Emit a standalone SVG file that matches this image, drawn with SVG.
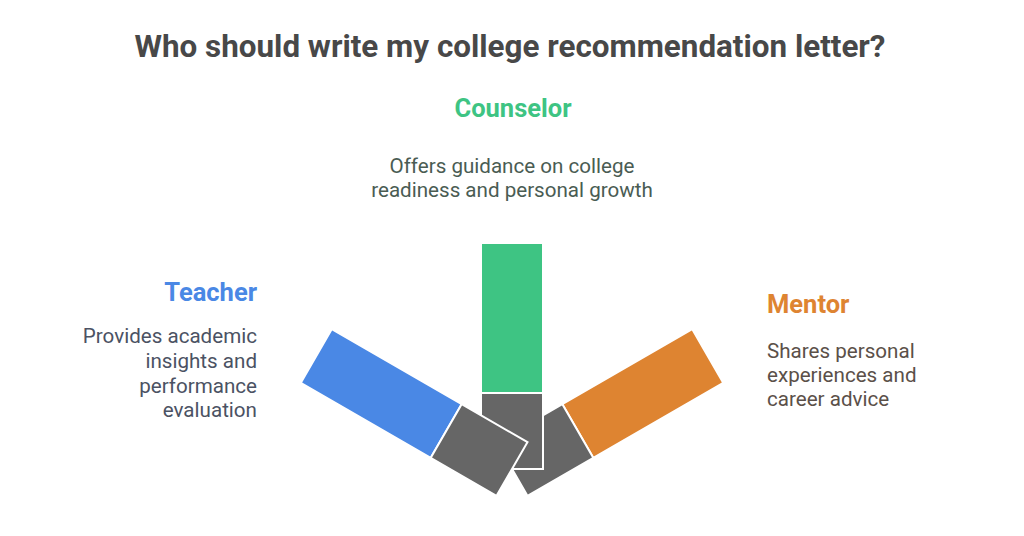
<svg xmlns="http://www.w3.org/2000/svg" width="1024" height="536" viewBox="0 0 1024 536">
<style>
.t{font-family:Roboto,"Liberation Sans",sans-serif}
.title{font-size:31.4px;font-weight:700;fill:#484848}
.head{font-size:25.5px;font-weight:700}
.desc{font-size:20.6px}
.bar{stroke:#ffffff;stroke-width:2}
</style>
<rect width="1024" height="536" fill="#ffffff"/>
<text class="t title" x="510" y="57" text-anchor="middle">Who should write my college recommendation letter?</text>
<g id="connectors"/>
<g id="mentor">
<g class="bar" transform="rotate(60 512 469)">
<rect x="481" y="243" width="62" height="150" fill="#DE8431"/>
<rect x="481" y="393" width="62" height="76" fill="#666666"/>
</g>
<text class="t head" x="767" y="313" fill="#DE8431">Mentor</text>
<text class="t desc" fill="#5b5049"><tspan x="767" y="358">Shares personal</tspan><tspan x="767" y="382">experiences and</tspan><tspan x="767" y="406">career advice</tspan></text>
</g>
<g id="counselor">
<g class="bar">
<rect x="481" y="243" width="62" height="150" fill="#3EC483"/>
<rect x="481" y="393" width="62" height="76" fill="#666666"/>
</g>
<text class="t head" x="513" y="117" text-anchor="middle" fill="#3EC483">Counselor</text>
<text class="t desc" fill="#4a5c53" text-anchor="middle"><tspan x="512" y="173">Offers guidance on college</tspan><tspan x="512" y="197">readiness and personal growth</tspan></text>
</g>
<g id="teacher">
<g class="bar" transform="rotate(-60 512 469)">
<rect x="481" y="243" width="62" height="150" fill="#4A88E5"/>
<rect x="481" y="393" width="62" height="76" fill="#666666"/>
</g>
<text class="t head" x="257" y="301" text-anchor="end" fill="#4A88E5">Teacher</text>
<text class="t desc" fill="#4b5263" text-anchor="end"><tspan x="257" y="343">Provides academic</tspan><tspan x="257" y="368">insights and</tspan><tspan x="257" y="393">performance</tspan><tspan x="257" y="417">evaluation</tspan></text>
</g>
</svg>
